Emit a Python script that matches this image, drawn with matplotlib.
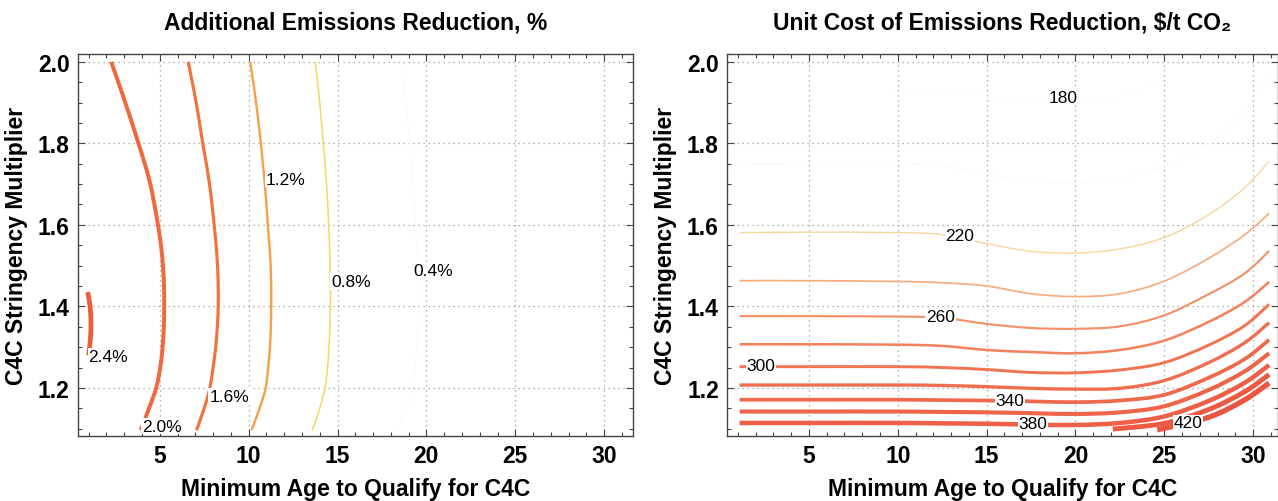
import numpy as np
import matplotlib.pyplot as plt
from matplotlib.colors import LinearSegmentedColormap
from matplotlib.ticker import MultipleLocator, FormatStrFormatter
from matplotlib.path import Path
from matplotlib.patches import PathPatch

# Additional emissions reduction (%) contour lines: x = minimum age, y = stringency multiplier
reduction_levels = [0.4, 0.8, 1.2, 1.6, 2.0, 2.4]
reduction_labels = ["0.4%", "0.8%", "1.2%", "1.6%", "2.0%", "2.4%"]
y_steps = [1.096, 1.15, 1.2, 1.25, 1.3, 1.35, 1.4, 1.45, 1.5, 1.55,
           1.6, 1.65, 1.7, 1.75, 1.8, 1.85, 1.9, 1.95, 2.0]
reduction_y = [
    [1.096, 1.2, 1.3, 1.4, 1.5, 1.6, 1.7, 1.8, 1.9, 2.0],
    y_steps,
    y_steps,
    y_steps,
    y_steps,
    [1.28, 1.32, 1.36, 1.40, 1.435],
]
reduction_x = [
    [18.4, 19.2, 19.45, 19.55, 19.5, 19.4, 19.25, 19.05, 18.85, 18.6],
    [13.58, 14.0, 14.3, 14.44, 14.52, 14.57, 14.6, 14.6, 14.58, 14.55,
     14.5, 14.45, 14.38, 14.3, 14.2, 14.1, 14.0, 13.88, 13.74],
    [10.16, 10.62, 10.96, 11.1, 11.2, 11.25, 11.27, 11.27, 11.24, 11.17,
     11.08, 11.0, 10.91, 10.8, 10.69, 10.56, 10.42, 10.26, 10.09],
    [7.07, 7.5, 7.82, 8.0, 8.15, 8.24, 8.29, 8.29, 8.25, 8.17,
     8.06, 7.94, 7.8, 7.62, 7.42, 7.24, 7.05, 6.83, 6.6],
    [3.93, 4.4, 4.8, 5.03, 5.16, 5.23, 5.25, 5.24, 5.18, 5.07,
     4.9, 4.7, 4.47, 4.16, 3.8, 3.44, 3.06, 2.67, 2.27],
    [1.0, 1.1, 1.13, 1.08, 0.95],
]
reduction_label_xy = [(20.4, 1.488), (15.75, 1.461), (12.1, 1.712),
                      (8.9, 1.18), (5.1, 1.106), (2.1, 1.278)]

# Unit cost of emissions reduction ($/t CO2) contour lines
cost_levels = [180, 200, 220, 240, 260, 280, 300, 320, 340, 360, 380, 400, 420]
x_steps = [1.1, 5, 10, 12.5, 15, 17.5, 20, 22.5, 25, 27.5, 29.5, 30.9]
cost_x = [
    [1.1, 5, 10, 12.5, 15, 17.5, 20, 22.5, 24.8],
    x_steps, x_steps, x_steps, x_steps, x_steps, x_steps,
    x_steps, x_steps, x_steps, x_steps,
    [22.1, 25, 27.5, 29.5, 30.9],
    [24.6, 27.5, 29.5, 30.9],
]
cost_y = [
    [1.935, 1.935, 1.934, 1.93, 1.915, 1.905, 1.902, 1.915, 1.96],
    [1.75, 1.75, 1.749, 1.745, 1.725, 1.708, 1.703, 1.713, 1.745, 1.80, 1.88, 1.97],
    [1.581, 1.582, 1.581, 1.576, 1.554, 1.535, 1.531, 1.541, 1.569, 1.625, 1.69, 1.756],
    [1.463, 1.463, 1.461, 1.458, 1.450, 1.431, 1.424, 1.431, 1.462, 1.518, 1.575, 1.628],
    [1.376, 1.376, 1.375, 1.372, 1.357, 1.347, 1.345, 1.351, 1.378, 1.43, 1.48, 1.536],
    [1.307, 1.307, 1.306, 1.303, 1.293, 1.288, 1.285, 1.293, 1.316, 1.362, 1.41, 1.460],
    [1.252, 1.252, 1.252, 1.250, 1.245, 1.238, 1.237, 1.244, 1.262, 1.305, 1.352, 1.405],
    [1.207, 1.207, 1.207, 1.206, 1.203, 1.199, 1.197, 1.199, 1.218, 1.262, 1.31, 1.360],
    [1.171, 1.171, 1.171, 1.170, 1.169, 1.167, 1.165, 1.169, 1.183, 1.225, 1.27, 1.318],
    [1.142, 1.142, 1.142, 1.141, 1.140, 1.138, 1.136, 1.140, 1.155, 1.195, 1.24, 1.285],
    [1.114, 1.114, 1.114, 1.113, 1.112, 1.110, 1.109, 1.114, 1.13, 1.168, 1.212, 1.256],
    [1.099, 1.113, 1.147, 1.19, 1.233],
    [1.097, 1.128, 1.170, 1.212],
]
cost_label_text = ["180", "220", "260", "300", "340", "380", "420"]
cost_label_xy = [(19.3, 1.913), (13.5, 1.574), (12.4, 1.374), (2.3, 1.255),
                 (16.3, 1.169), (17.6, 1.112), (26.35, 1.114)]

reduction_cmap = LinearSegmentedColormap.from_list(
    "reduction", [(0, "#FFFAEC"), (0.2, "#F8D66C"), (0.4, "#F4A04C"),
                  (0.6, "#F1743F"), (1, "#EE5C3C")])
cost_cmap = LinearSegmentedColormap.from_list(
    "cost", [(0, "#FFFEFB"), (0.09, "#FFF9F0"), (0.167, "#F8D49A"), (0.25, "#F5AE80"),
             (0.333, "#F3926A"), (0.5, "#F07352"), (1, "#EC5540")])

plt.rcParams["font.family"] = ["Liberation Sans", "DejaVu Sans"]

fig = plt.figure(figsize=(12.78, 5.02), dpi=100)
ax1 = fig.add_axes([0.061, 0.1295, 0.434, 0.76])
ax2 = fig.add_axes([0.569, 0.1295, 0.431, 0.76])


def smooth_line(ax, xs, ys, color, lw):
    # Bezier curve through the points (Catmull-Rom tangents)
    pts = np.column_stack([xs, ys])
    n = len(pts)
    verts = [pts[0]]
    codes = [Path.MOVETO]
    for i in range(n - 1):
        p0 = pts[i - 1] if i > 0 else pts[i]
        p1, p2 = pts[i], pts[i + 1]
        p3 = pts[i + 2] if i + 2 < n else pts[i + 1]
        verts += [p1 + (p2 - p0) / 6, p2 - (p3 - p1) / 6, p2]
        codes += [Path.CURVE4] * 3
    ax.add_patch(PathPatch(Path(verts, codes), fill=False, edgecolor=color,
                           linewidth=lw, capstyle="butt", zorder=2))


def style_axes(ax, xmax):
    ax.set_xlim(0.4, xmax)
    ax.set_ylim(1.082, 2.018)
    ax.set_xticks([5, 10, 15, 20, 25, 30])
    ax.set_yticks([1.2, 1.4, 1.6, 1.8, 2.0])
    ax.yaxis.set_major_formatter(FormatStrFormatter("%.1f"))
    ax.xaxis.set_minor_locator(MultipleLocator(1))
    ax.yaxis.set_minor_locator(MultipleLocator(0.05))
    ax.tick_params(which="both", direction="in", top=True, right=True,
                   color="#444444", width=0.8)
    ax.tick_params(which="major", length=5, labelsize=16.5, pad=6)
    ax.tick_params(which="minor", length=3)
    for lab in ax.get_xticklabels() + ax.get_yticklabels():
        lab.set_fontweight("bold")
    for sp in ax.spines.values():
        sp.set_color("#444444")
        sp.set_linewidth(1.0)
    ax.grid(True, which="major", color="#9A9A9A", linestyle=(0, (1, 3)), linewidth=0.9)
    ax.set_axisbelow(True)
    ax.set_xlabel("Minimum Age to Qualify for C4C", fontsize=16.5, fontweight="bold", labelpad=7)
    ax.set_ylabel("C4C Stringency Multiplier", fontsize=16.5, fontweight="bold", labelpad=7)


style_axes(ax1, 31.6)
style_axes(ax2, 31.4)

# left panel
for lev, xs, ys in zip(reduction_levels, reduction_x, reduction_y):
    t = (lev - 0.4) / 2.0
    smooth_line(ax1, xs, ys, reduction_cmap(t), np.interp(t, [0, 1], [0.6, 3.4]))
for txt, (x, y) in zip(reduction_labels, reduction_label_xy):
    ax1.text(x, y, txt, fontsize=12.5, ha="center", va="center", zorder=3,
             bbox=dict(facecolor="white", edgecolor="none", pad=0.5))
ax1.set_title("Additional Emissions Reduction, %", fontsize=16.5, fontweight="bold", pad=19)

# right panel
for lev, xs, ys in zip(cost_levels, cost_x, cost_y):
    t = (lev - 180) / 240
    smooth_line(ax2, xs, ys, cost_cmap(t), np.interp(t, [0, 0.167, 1], [0.5, 1.0, 3.8]))
for txt, (x, y) in zip(cost_label_text, cost_label_xy):
    ax2.text(x, y, txt, fontsize=12.5, ha="center", va="center", zorder=3,
             bbox=dict(facecolor="white", edgecolor="none", pad=0.5))
ax2.set_title("Unit Cost of Emissions Reduction, $/t CO\u2082", fontsize=16.5,
              fontweight="bold", pad=19)

fig.savefig("out.png", dpi=100)
